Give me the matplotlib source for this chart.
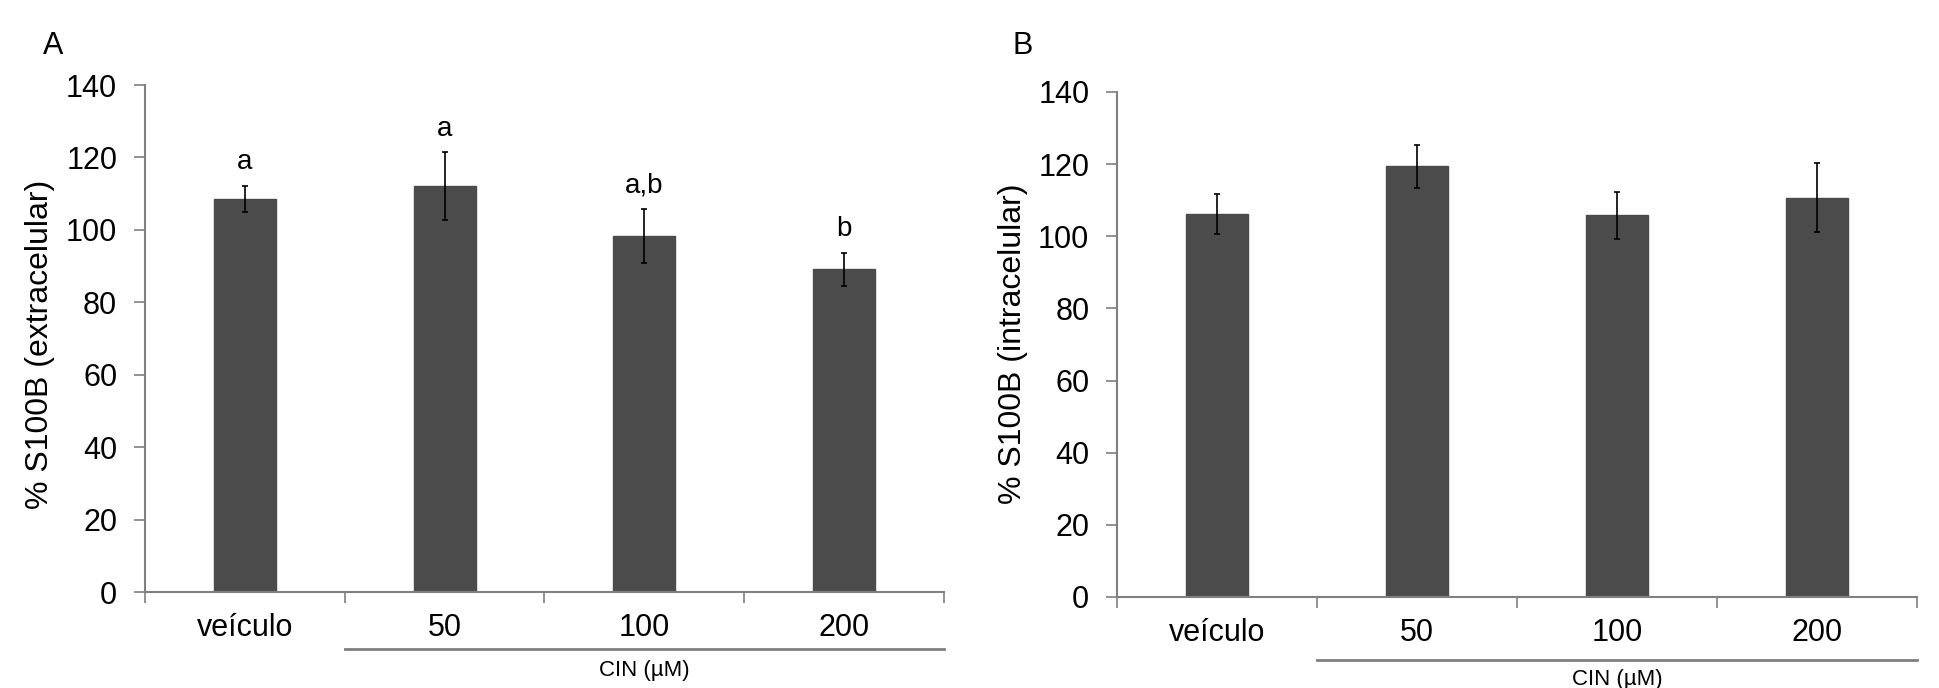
import matplotlib
matplotlib.use("Agg")
import matplotlib.pyplot as plt
from matplotlib.lines import Line2D
import matplotlib.transforms as mtransforms

plt.rcParams['font.family'] = ['Liberation Sans', 'DejaVu Sans']

categories = ["veículo", "50", "100", "200"]
extra_mean = [108.5, 112.0, 98.3, 89.1]
extra_err = [3.6, 9.4, 7.5, 4.6]
extra_letters = ["a", "a", "a,b", "b"]
intra_mean = [106.1, 119.4, 105.8, 110.7]
intra_err = [5.5, 6.0, 6.5, 9.5]
yticks = [0, 20, 40, 60, 80, 100, 120, 140]

BAR = "#4b4b4b"
AX = "#7f7f7f"

fig = plt.figure(figsize=(19.4, 6.88), dpi=100)
fig.patch.set_facecolor("white")

def panel(rect, means, errs, letters, line_y, cin_y):
    ax = fig.add_axes(rect)
    x = list(range(len(categories)))
    ax.bar(x, means, width=0.31, color=BAR, edgecolor=BAR, zorder=2)
    ax.errorbar(x, means, yerr=errs, fmt="none", ecolor="black",
                elinewidth=1.2, capsize=2.5, capthick=1.2, zorder=3)
    if letters:
        for xi, m, e, t in zip(x, means, errs, letters):
            ax.text(xi, m + e + 3.0, t, ha="center", va="bottom", fontsize=20)
    ax.set_xlim(-0.5, len(categories) - 0.5)
    ax.set_ylim(0, 140)
    ax.set_yticks(yticks)
    ax.set_yticklabels([str(v) for v in yticks], fontsize=22)
    ax.tick_params(axis="y", direction="out", length=8, width=1.2, color=AX, pad=12)
    ax.set_xticks([i - 0.5 for i in range(len(categories) + 1)])
    ax.set_xticklabels([])
    ax.tick_params(axis="x", which="major", direction="out", length=8, width=1.2, color=AX)
    ax.set_xticks(x, minor=True)
    ax.set_xticklabels(categories, minor=True, fontsize=22)
    ax.tick_params(axis="x", which="minor", length=0, pad=15)
    for s in ["top", "right"]:
        ax.spines[s].set_visible(False)
    for s in ["left", "bottom"]:
        ax.spines[s].set_color(AX)
        ax.spines[s].set_linewidth(1.5)
    trans = mtransforms.blended_transform_factory(ax.transData, ax.transAxes)
    ax.add_line(Line2D([0.5, len(categories) - 0.5], [line_y, line_y], transform=trans,
                       color=AX, linewidth=2.0, clip_on=False))
    ax.text(2.0, cin_y, "CIN (µM)", transform=trans, ha="center", va="center",
            fontsize=16)
    return ax

axA = panel([0.0747, 0.1395, 0.4119, 0.7369], extra_mean, extra_err, extra_letters,
            -0.112, -0.154)
axB = panel([0.5758, 0.1323, 0.4124, 0.7340], intra_mean, intra_err, None,
            -0.125, -0.163)

fig.text(40 / 1940, 1 - 344 / 688, "% S100B (extracelular)", rotation=90,
         ha="center", va="center", fontsize=23)
fig.text(1013 / 1940, 1 - 344 / 688, "% S100B (intracelular)", rotation=90,
         ha="center", va="center", fontsize=23)
fig.text(53 / 1940, 1 - 46 / 688, "A", ha="center", va="center", fontsize=22)
fig.text(1023 / 1940, 1 - 46 / 688, "B", ha="center", va="center", fontsize=22)

fig.savefig("out.png", dpi=100, facecolor="white")
